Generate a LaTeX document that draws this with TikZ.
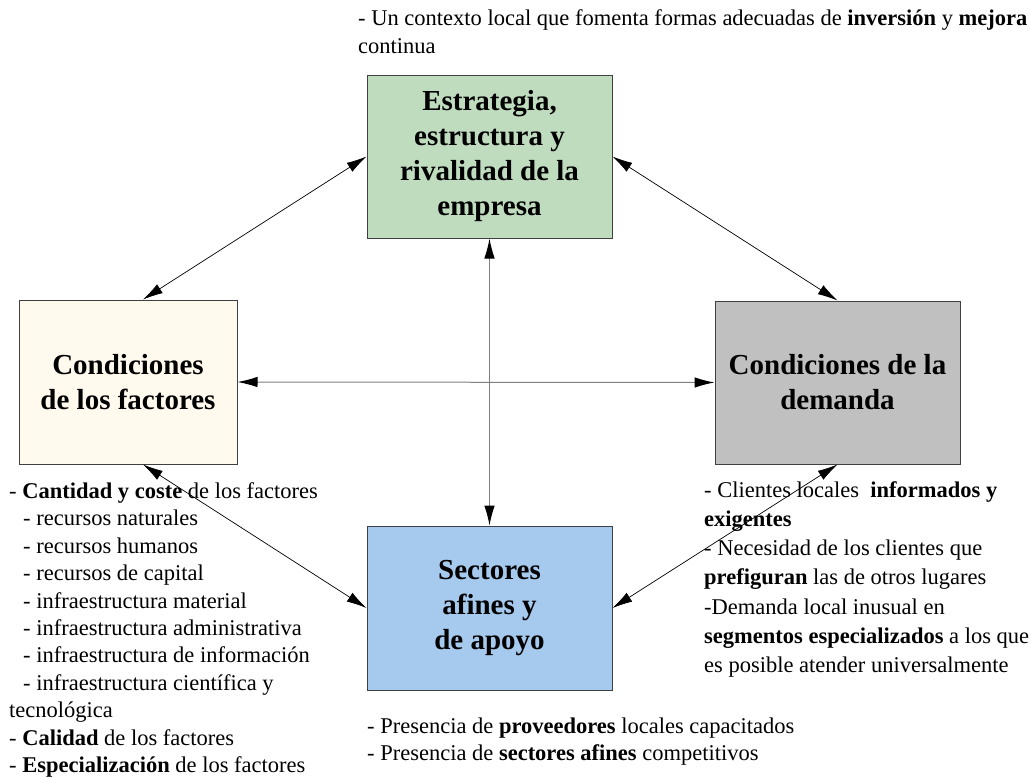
\documentclass[tikz,border=0pt]{standalone}
\usepackage{fontspec}
\setmainfont{Liberation Serif}
\usetikzlibrary{arrows.meta,calc}

\definecolor{boxgreen}{HTML}{BFDCBF}
\definecolor{boxcream}{HTML}{FFF9EE}
\definecolor{boxgray}{HTML}{C0C0C0}
\definecolor{boxblue}{HTML}{A6C9EE}
\definecolor{boxline}{HTML}{404040}
\definecolor{axisline}{HTML}{7F7F7F}

\tikzset{
  force/.style={draw=boxline, line width=1pt, align=center, inner sep=0pt,
    font=\fontsize{29}{35}\selectfont\bfseries},
  txt/.style={anchor=base west, inner sep=0pt, font=\fontsize{22.5}{27}\selectfont},
  tip/.style={Latex[length=20pt,width=10.5pt,color=black]},
  link/.style={line width=0.7pt, {Latex[length=20pt,width=10.5pt,color=black]}-{Latex[length=20pt,width=10.5pt,color=black]}},
  axis/.style={link, draw=axisline, line width=1pt}
}

\begin{document}
\begin{tikzpicture}[x=1pt,y=-1pt]
\useasboundingbox (0,0) rectangle (1030,779);

% the four determinants
\node[force, fill=boxgreen, minimum width=245pt, minimum height=163pt] (est) at (489.5,156.5)
  {Estrategia,\\estructura y\\rivalidad de la\\empresa};
\node[force, fill=boxcream, minimum width=218pt, minimum height=164pt] (fac) at (128,382)
  {Condiciones\\de los factores};
\node[force, fill=boxgray, minimum width=245pt, minimum height=163pt] (dem) at (837.5,382.5)
  {Condiciones de la\\demanda};
\node[force, fill=boxblue, minimum width=245pt, minimum height=164pt] (sec) at (489.5,608)
  {Sectores\\afines y\\de apoyo};

% links between the determinants
\draw[link] ($(fac.north)+(15,0)$) -- (est.west);
\draw[link] (est.east) -- (dem.north);
\draw[link] ($(fac.south)+(15,0)$) -- (sec.west);
\draw[link] (dem.south) -- (sec.east);
\draw[axis] (est.south) -- (sec.north);
\draw[axis] (fac.east) -- (dem.west);

% strategy notes
\node[txt] (t1) at (358,25) {- Un contexto local que fomenta formas adecuadas de \textbf{inversión} y \textbf{mejora}};
\node[txt] (t2) at (358,53) {continua};

% factor notes
\foreach \n/\x/\y/\t in {
  f1/9/498/{- \textbf{Cantidad y coste} de los factores},
  f2/23/525/{- recursos naturales},
  f3/23/553/{- recursos humanos},
  f4/23/580/{- recursos de capital},
  f5/23/608/{- infraestructura material},
  f6/23/635/{- infraestructura administrativa},
  f7/23/662/{- infraestructura de información},
  f8/23/690/{- infraestructura científica y},
  f9/9/717/{tecnológica},
  f10/9/745/{- \textbf{Calidad} de los factores},
  f11/9/772/{- \textbf{Especialización} de los factores}}
  \node[txt] (\n) at (\x,\y) {\t};

% demand notes
\foreach \n/\y/\t in {
  d1/497/{- Clientes locales \ \textbf{informados y}},
  d2/526/{\textbf{exigentes}},
  d3/555/{- Necesidad de los clientes que},
  d4/584/{\textbf{prefiguran} las de otros lugares},
  d5/614/{-Demanda local inusual en},
  d6/643/{\textbf{segmentos especializados} a los que},
  d7/672/{es posible atender universalmente}}
  \node[txt] (\n) at (704,\y) {\t};

% related industries notes
\node[txt] (s1) at (367,733) {- Presencia de \textbf{proveedores} locales capacitados};
\node[txt] (s2) at (367,760) {- Presencia de \textbf{sectores afines} competitivos};
\end{tikzpicture}
\end{document}
